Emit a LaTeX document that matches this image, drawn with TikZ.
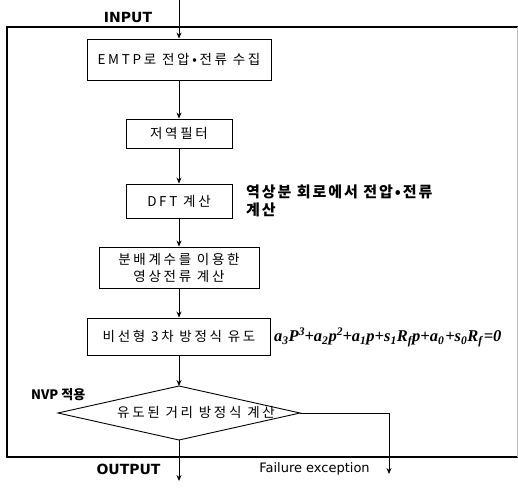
\documentclass[tikz,border=0pt]{standalone}
\usepackage{fontspec}
\setmainfont{DejaVu Sans}
\newfontfamily\kr[LetterSpace=20]{Noto Sans CJK KR}
\newfontfamily\krb[LetterSpace=13]{Noto Sans CJK KR}
\newfontfamily\krn{Noto Sans CJK KR}
\newfontfamily\eqf{Liberation Serif}
\newcommand\sbx[1]{\textsubscript{#1}}
\newcommand\spx[1]{\textsuperscript{#1}}
\usetikzlibrary{arrows.meta}
\begin{document}
\begin{tikzpicture}[x=1pt,y=-1pt,
  box/.style={draw, line width=0.9pt, inner sep=0pt, align=center,
    font=\kr\fontsize{13.5}{17}\selectfont},
  flow/.style={-{Stealth[length=6pt,width=5pt]}, line width=0.8pt},
  lab/.style={font=\bfseries\fontsize{14}{16}\selectfont},
  side/.style={font=\krb\bfseries\fontsize{15}{18}\selectfont, align=left, inner sep=0pt},
  eqstyle/.style={font=\eqf\bfseries\itshape\fontsize{16.5}{18}\selectfont, inner sep=0pt}]
\useasboundingbox (0,0) rectangle (518,487);
% frame
\draw[line width=1.8pt] (518,27) -- (7,27) -- (7,457) -- (518,457);
\draw[black!25, line width=0.6pt] (517,27) -- (517,457);
% boxes
\node[box, minimum width=184pt, minimum height=41pt] (b1) at (179,59.5) {EMTP로 전압•전류 수집};
\node[box, minimum width=106pt, minimum height=29pt] (b2) at (179,133.5) {저역필터};
\node[box, minimum width=106pt, minimum height=34pt] (b3) at (179,201) {DFT 계산};
\node[box, minimum width=160pt, minimum height=41pt] (b4) at (179,267.5) {분배계수를 이용한\\영상전류 계산};
\node[box, minimum width=183pt, minimum height=37pt] (b5) at (179,336.5) {비선형 3차 방정식 유도};
% diamond
\coordinate (dT) at (179,386);
\coordinate (dB) at (179,440);
\coordinate (dL) at (58,413);
\coordinate (dR) at (300,413);
\draw[line width=0.9pt] (dT) -- (dR) -- (dB) -- (dL) -- cycle;
\node[font=\kr\fontsize{13.5}{15}\selectfont, inner sep=0pt] (dtext) at (196,412) {유도된 거리 방정식 계산};
% side texts
\node[side, anchor=west] (sidetxt) at (246,201) {역상분 회로에서 전압•전류\\계산};
\node[anchor=west, inner sep=0pt, font=\krn\bfseries\fontsize{13}{15}\selectfont] (nvp) at (31,395) {NVP 적용};
\node[eqstyle, anchor=west] (eq) at (274,337) {a\sbx{3}P\spx{3}\kern-.5pt+a\sbx{2}p\spx{2}\kern-.5pt+a\sbx{1}p+s\sbx{1}R\sbx{f}p+a\sbx{0}\kern1pt+s\sbx{0}R\sbx{f}\kern1pt=0};
% labels
\node[lab] (inlab) at (128,17) {INPUT};
\node[lab] (outlab) at (128.5,469) {OUTPUT};
\node[font=\fontsize{13}{15}\selectfont] (fail) at (314.5,469) {Failure exception};
% connector ends
\coordinate (inTop) at (179,0);
\coordinate (outEnd) at (179,481);
\coordinate (fCorner) at (389,413);
\coordinate (fEnd) at (389,474);
% connectors
\draw[flow] (inTop) -- (b1.north);
\draw[flow] (b1.south) -- (b2.north);
\draw[flow] (b2.south) -- (b3.north);
\draw[flow] (b3.south) -- (b4.north);
\draw[flow] (b4.south) -- (b5.north);
\draw[flow] (b5.south) -- (dT);
\draw[flow] (dB) -- (outEnd);
\draw[flow] (dR) -- (fCorner) -- (fEnd);
\end{tikzpicture}
\end{document}
